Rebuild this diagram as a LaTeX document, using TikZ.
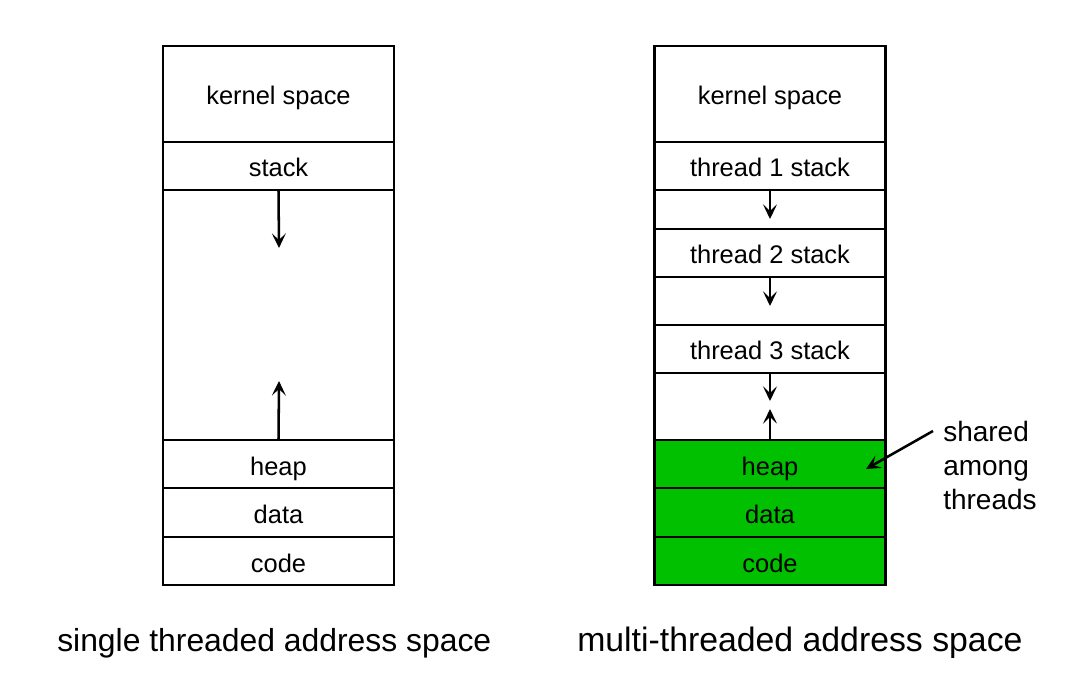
\documentclass[tikz,border=0pt]{standalone}
\usepackage{fontspec}
\setmainfont{Liberation Sans}
\usetikzlibrary{arrows.meta}
\definecolor{sharedgreen}{RGB}{0,192,0}
\tikzset{
  seg/.style={draw=black, line width=1.8pt, inner sep=0pt, outer sep=0pt,
    minimum width=173pt, text height=16.5pt, text depth=0pt,
    font=\fontsize{19.1}{20}\selectfont},
  shared/.style={seg, fill=sharedgreen},
  growarrow/.style={line width=1.9pt, -{Stealth[length=11pt,width=10.5pt,inset=5pt]}},
  caption/.style={inner sep=0pt, anchor=west}
}
\begin{document}
\begin{tikzpicture}[x=0.75pt,y=-0.75pt]
\useasboundingbox (0,0) rectangle (1074,673);
% left column
\node[seg, minimum height=72pt] (lk) at (278.5,94) {kernel space};
\node[seg, minimum height=36pt] (ls) at (278.5,166) {stack};
\node[seg, minimum height=187.5pt] (lg) at (278.5,315) {};
\node[seg, minimum height=36pt] (lh) at (278.5,464) {heap};
\node[seg, minimum height=36.75pt] (ld) at (278.5,512.5) {data};
\node[seg, minimum height=36pt] (lc) at (278.5,561) {code};
\coordinate (ldown) at (279,248);
\coordinate (lup) at (279,381);
\draw[growarrow] (ls.south) -- (ldown);
\draw[growarrow] (lh.north) -- (lup);
% right column
\node[seg, minimum height=72pt] (rk) at (770,94) {kernel space};
\node[seg, minimum height=36pt] (t1) at (770,166) {thread 1 stack};
\node[seg, minimum height=29.25pt] (g1) at (770,209.5) {};
\node[seg, minimum height=36pt] (t2) at (770,253) {thread 2 stack};
\node[seg, minimum height=36pt] (g2) at (770,301) {};
\node[seg, minimum height=36pt] (t3) at (770,349) {thread 3 stack};
\node[seg, minimum height=50.25pt] (g3) at (770,406.5) {};
\node[shared, minimum height=36pt] (rh) at (770,464) {heap};
\node[shared, minimum height=36.75pt] (rd) at (770,512.5) {data};
\node[shared, minimum height=36pt] (rc) at (770,561) {code};
\coordinate (a1) at (770,219);
\coordinate (a2) at (770,306);
\coordinate (a3) at (770,401);
\coordinate (a4) at (770,409);
\draw[growarrow] (t1.south) -- (a1);
\draw[growarrow] (t2.south) -- (a2);
\draw[growarrow] (t3.south) -- (a3);
\draw[growarrow] (rh.north) -- (a4);
% shared label
\node[inner sep=0pt, anchor=north west, align=left,
  font=\fontsize{21}{25.5}\selectfont] (lbl) at (943,421) {shared\\among\\threads};
\coordinate (lblpt) at (933,431);
\coordinate (heappt) at (866,469);
\draw[growarrow] (lblpt) -- (heappt);
% captions
\node[caption, font=\fontsize{23.9}{26}\selectfont] (cap1) at (57,643) {single threaded address space};
\node[caption, font=\fontsize{25.35}{26}\selectfont] (cap2) at (577,643) {multi-threaded address space};
\end{tikzpicture}
\end{document}
